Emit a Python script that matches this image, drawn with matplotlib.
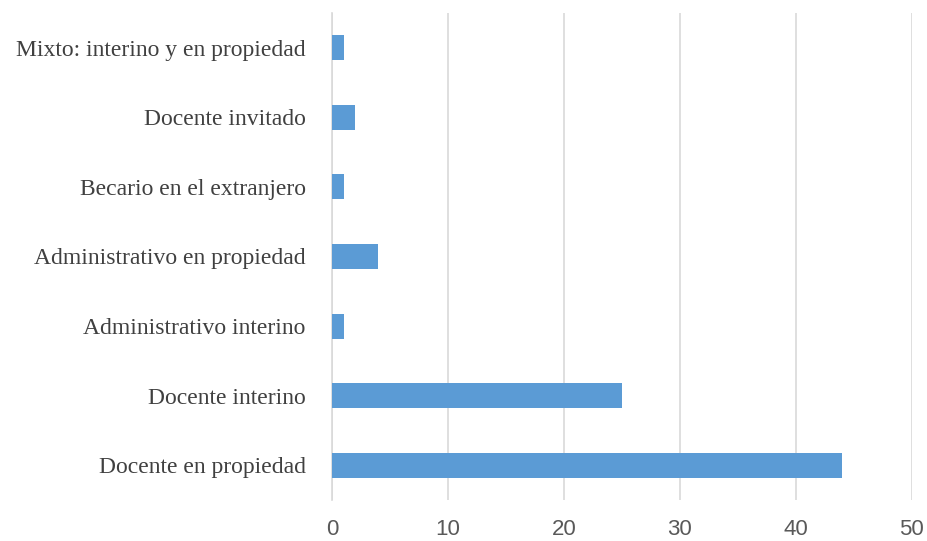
import matplotlib
matplotlib.use("Agg")
import matplotlib.pyplot as plt

categories = [
    "Docente en propiedad",
    "Docente interino",
    "Administrativo interino",
    "Administrativo en propiedad",
    "Becario en el extranjero",
    "Docente invitado",
    "Mixto: interino y en propiedad",
]
values = [44, 25, 1, 4, 1, 2, 1]
x_ticks = [0, 10, 20, 30, 40, 50]

fig = plt.figure(figsize=(9.28, 5.41), dpi=100)
ax = fig.add_axes([0.3578, 0.0758, 0.9824 - 0.3578, 0.976 - 0.0758])

ax.barh(range(len(categories)), values, height=0.36, color="#5B9BD5", zorder=3)

ax.set_xlim(0, 50)
ax.set_ylim(-0.5, len(categories) - 0.5)
ax.set_xticks(x_ticks)
ax.set_yticks(range(len(categories)))
ax.set_yticklabels(categories, family="Liberation Serif", fontsize=17, color="#404040")
for lbl in ax.get_xticklabels():
    lbl.set_family("Liberation Sans")
    lbl.set_fontsize(16)
    lbl.set_color("#595959")

ax.grid(axis="x", color="#D9D9D9", linewidth=1.2, zorder=0)
for side in ["top", "right", "bottom"]:
    ax.spines[side].set_visible(False)
ax.spines["left"].set_color("#D9D9D9")
ax.spines["left"].set_linewidth(1.2)
ax.tick_params(axis="both", length=0)
ax.tick_params(axis="y", pad=19)
ax.tick_params(axis="x", pad=14)

fig.savefig("out.png", dpi=100)
